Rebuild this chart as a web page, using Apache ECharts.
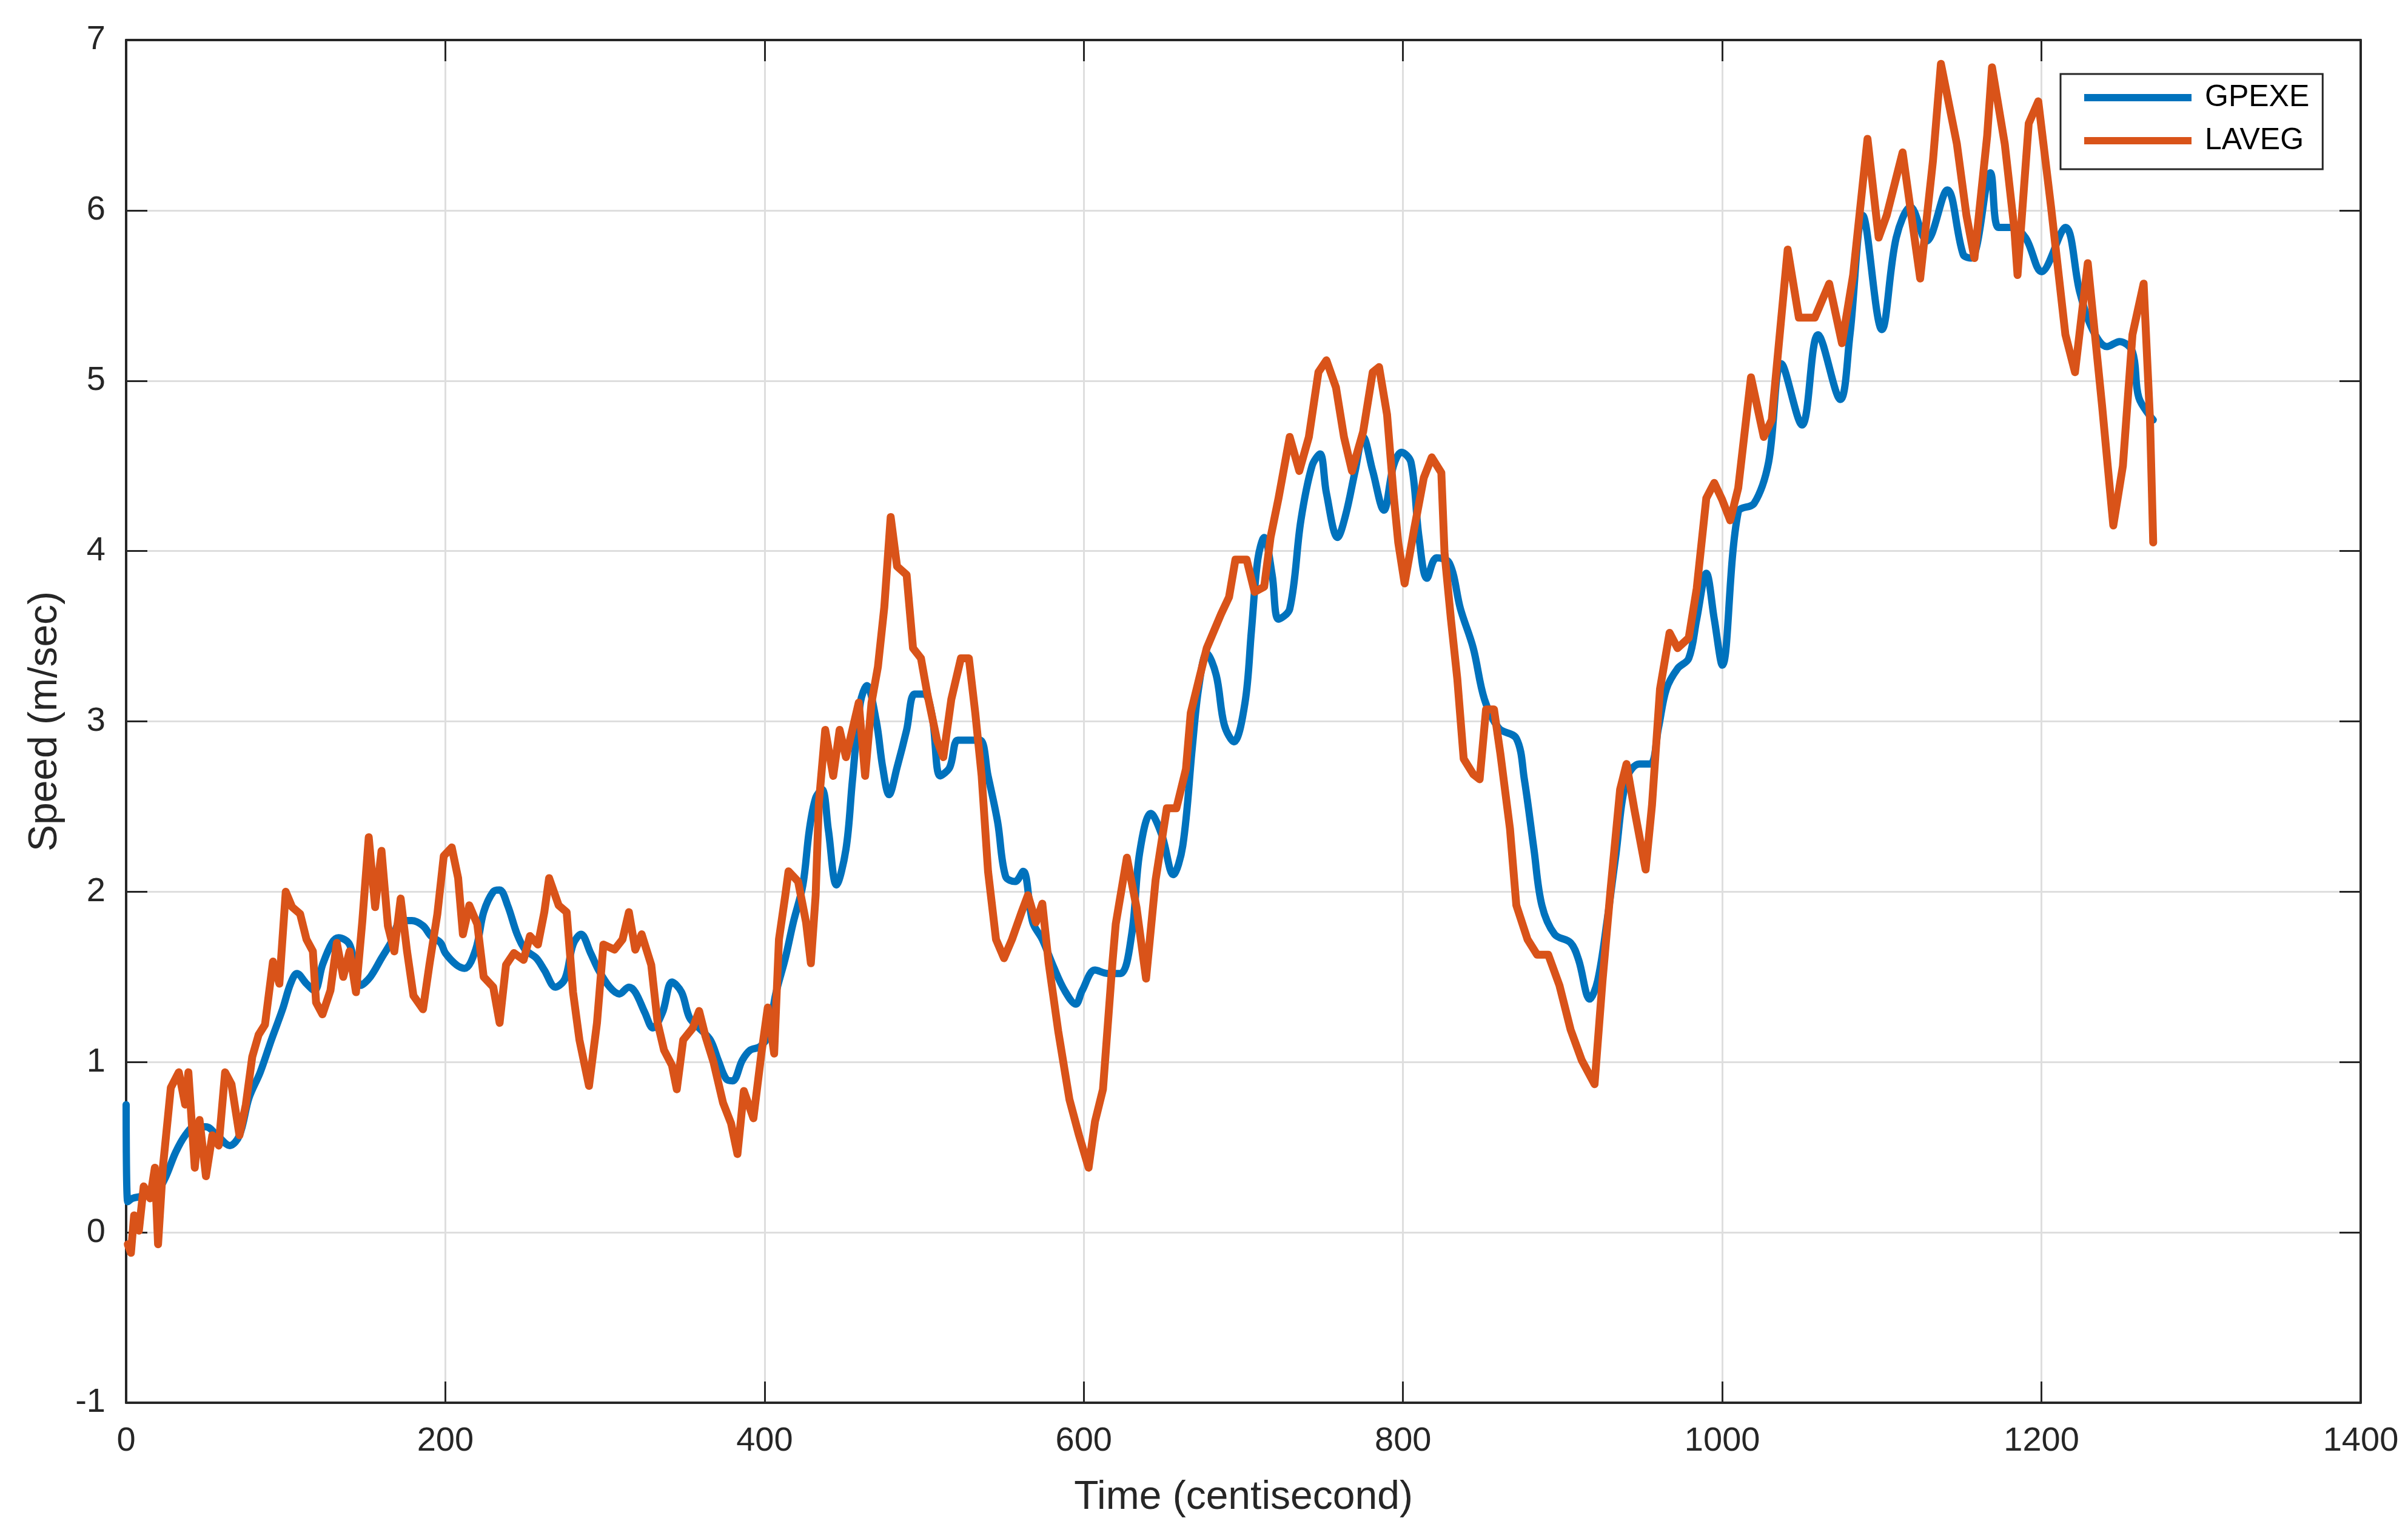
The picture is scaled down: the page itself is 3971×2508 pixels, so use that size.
<!DOCTYPE html>
<html>
	<head>
        <meta charset="utf-8" />
		<title>GPEXE vs LAVEG</title>
        <script src="https://cdn.jsdelivr.net/npm/echarts@6/dist/echarts.min.js"></script>
	</head>
	<body style="margin:0">

       <div id="main" style="width:3971px;height:2508px"> </div>

    <script>
      // GPEXE (blue)
      var gpexeTime = [0, 1, 4, 9, 18, 24, 31, 37, 43, 50, 57, 65, 71, 77, 84, 91, 98, 103, 107, 113, 118, 123, 129, 133, 140, 147, 153, 160, 167, 172, 179, 186, 191, 197,
        200, 207, 212, 219, 224, 230, 234, 239, 245, 250, 257, 262, 269, 275, 280, 285, 291, 296, 303, 309, 315, 319, 325, 330, 336, 342, 348, 353, 359, 366, 371, 376, 380, 386, 391, 397,
        402, 407, 413, 418, 424, 428, 432, 436, 440, 445, 451, 455, 460, 464, 470, 474, 478, 483, 489, 494, 500, 505, 510, 516, 521, 528, 535, 540, 546, 551, 557, 562, 568, 574, 581, 588, 595,
        599, 607, 615, 623, 630, 635, 642, 649, 656, 662, 668, 672, 677, 683, 688, 694, 701, 705, 709, 713, 718, 722, 729, 736, 743, 748, 752, 759, 764, 770, 775, 781, 788, 794,
        799, 805, 810, 815, 821, 829, 836, 844, 851, 860, 871, 876, 882, 887, 895, 905, 910, 917, 922, 928, 933, 940, 948, 955, 960, 965, 972, 979, 984, 990, 995,
        1000, 1010, 1020, 1029, 1037, 1050, 1060, 1074, 1080, 1088, 1100, 1109, 1118, 1128, 1141, 1151, 1156, 1168, 1173, 1181, 1190, 1200, 1215, 1224, 1232, 1241, 1249, 1257, 1261, 1270];
      var gpexeSpeed = [0.75, 0.18, 0.2, 0.21, 0.23, 0.31, 0.47, 0.57, 0.62, 0.62, 0.57, 0.51, 0.57, 0.79, 0.94, 1.13, 1.31, 1.46, 1.52, 1.46, 1.42, 1.57, 1.7, 1.73, 1.69, 1.45, 1.5, 1.61, 1.72, 1.83, 1.83, 1.8, 1.74, 1.7,
        1.64, 1.57, 1.55, 1.66, 1.88, 2.0, 2.01, 1.92, 1.75, 1.66, 1.61, 1.54, 1.44, 1.49, 1.69, 1.75, 1.64, 1.54, 1.44, 1.4, 1.44, 1.41, 1.29, 1.2, 1.29, 1.47, 1.41, 1.26, 1.2, 1.13, 1.01, 0.9, 0.89, 1.01, 1.07, 1.09,
        1.15, 1.4, 1.61, 1.82, 2.04, 2.36, 2.55, 2.6, 2.36, 2.04, 2.25, 2.65, 3.11, 3.21, 3.0, 2.73, 2.57, 2.73, 2.95, 3.16, 3.16, 3.03, 2.68, 2.73, 2.89, 2.89, 2.89, 2.68, 2.41, 2.09, 2.06, 2.12, 1.82, 1.72, 1.56, 1.42, 1.34,
        1.42, 1.54, 1.52, 1.52, 1.75, 2.23, 2.46, 2.33, 2.1, 2.27, 2.85, 3.2, 3.4, 3.27, 2.98, 2.88, 3.11, 3.53, 3.95, 4.08, 3.86, 3.6, 3.66, 4.18, 4.5, 4.57, 4.34, 4.08, 4.21, 4.47, 4.67, 4.47, 4.24, 4.5,
        4.58, 4.52, 4.08, 3.84, 3.96, 3.93, 3.66, 3.43, 3.13, 2.96, 2.9, 2.66, 2.25, 1.92, 1.75, 1.7, 1.6, 1.37, 1.48, 1.84, 2.19, 2.66, 2.75, 2.75, 2.96, 3.19, 3.31, 3.37, 3.6, 3.87, 3.6,
        3.33, 4.23, 4.28, 4.52, 5.1, 4.74, 5.27, 4.89, 5.27, 5.97, 5.3, 5.84, 6.02, 5.82, 6.12, 5.74, 5.72, 6.22, 5.9, 5.9, 5.84, 5.64, 5.9, 5.52, 5.3, 5.2, 5.23, 5.17, 4.9, 4.77];

      // LAVEG (orange)
      var lavegTime = [1, 3, 5, 8, 11, 15, 18, 20, 23, 26, 28, 33, 37, 39, 43, 46, 50, 54, 58, 62, 66, 71, 75, 79, 83, 87, 92, 96, 100, 104, 109, 113, 117, 119, 123, 128, 132, 136, 140, 144, 148, 152, 156, 160, 164, 168, 172, 176, 180, 186, 190, 195, 199,
        204, 208, 211, 215, 220, 224, 230, 234, 238, 243, 249, 253, 258, 262, 265, 271, 276, 280, 284, 290, 295, 299, 306, 311, 315, 319, 323, 329, 333, 337, 342, 345, 349, 355, 359, 363, 368, 374, 379, 383, 387, 393, 398,
        402, 406, 409, 413, 415, 421, 426, 429, 432, 434, 438, 443, 447, 451, 455, 459, 463, 467, 471, 475, 479, 483, 489, 493, 498, 502, 508, 512, 517, 523, 528, 532, 536, 540, 545, 550, 555, 561, 565, 570, 574, 578, 584, 591, 597, 603,
        607, 612, 618, 620, 627, 633, 639, 645, 652, 658, 664, 667, 672, 677, 686, 691, 695, 702, 707, 713, 717, 722, 729, 735, 741, 747, 752, 758, 763, 768, 775, 781, 785, 790, 794, 797, 801,
        807, 813, 818, 824, 826, 830, 834, 838, 844, 848, 852, 857, 861, 867, 871, 878, 884, 891, 898, 905, 912, 920, 925, 930, 936, 940, 945, 952, 956, 961, 967, 972, 979, 984, 990, 995,
        1000, 1005, 1010, 1018, 1026, 1031, 1041, 1048, 1058, 1067, 1075, 1082, 1091, 1098, 1103, 1113, 1124, 1132, 1137, 1147, 1153, 1158, 1166, 1169, 1177, 1183, 1185, 1192, 1198, 1206, 1215, 1221, 1229, 1238, 1245, 1251, 1257, 1264, 1268, 1270];
      var lavegSpeed = [-0.07, -0.12, 0.1, 0.01, 0.27, 0.2, 0.38, -0.07, 0.38, 0.66, 0.85, 0.94, 0.75, 0.94, 0.38, 0.66, 0.33, 0.57, 0.51, 0.94, 0.87, 0.57, 0.75, 1.03, 1.16, 1.22, 1.59, 1.46, 2.0, 1.91, 1.87, 1.72, 1.65, 1.35, 1.28, 1.42, 1.7, 1.5, 1.65, 1.41, 1.83, 2.32, 1.91, 2.24, 1.8, 1.65, 1.96, 1.65, 1.39, 1.31, 1.57, 1.87, 2.21,
        2.26, 2.08, 1.75, 1.92, 1.81, 1.5, 1.44, 1.23, 1.57, 1.64, 1.6, 1.74, 1.69, 1.88, 2.08, 1.92, 1.88, 1.41, 1.13, 0.86, 1.23, 1.69, 1.66, 1.72, 1.88, 1.66, 1.75, 1.57, 1.23, 1.07, 0.98, 0.84, 1.13, 1.2, 1.3, 1.15, 1.0, 0.76, 0.64, 0.46, 0.83, 0.67, 1.05,
        1.32, 1.05, 1.72, 1.98, 2.12, 2.06, 1.82, 1.58, 1.98, 2.52, 2.95, 2.68, 2.95, 2.79, 2.95, 3.11, 2.68, 3.11, 3.32, 3.67, 4.2, 3.91, 3.86, 3.43, 3.37, 3.16, 2.89, 2.79, 3.13, 3.37, 3.37, 3.05, 2.68, 2.12, 1.72, 1.61, 1.72, 1.88, 1.98, 1.82, 1.93, 1.58, 1.18, 0.78, 0.57, 0.38,
        0.65, 0.84, 1.59, 1.81, 2.2, 1.91, 1.49, 2.07, 2.49, 2.49, 2.72, 3.05, 3.24, 3.43, 3.63, 3.73, 3.95, 3.95, 3.76, 3.79, 4.08, 4.31, 4.67, 4.47, 4.67, 5.05, 5.12, 4.96, 4.67, 4.47, 4.7, 5.05, 5.08, 4.8, 4.34, 4.05, 3.81,
        4.13, 4.43, 4.55, 4.46, 3.99, 3.6, 3.25, 2.78, 2.69, 2.66, 3.07, 3.07, 2.81, 2.37, 1.92, 1.72, 1.63, 1.63, 1.45, 1.19, 1.01, 0.87, 1.48, 2.01, 2.6, 2.75, 2.48, 2.13, 2.51, 3.19, 3.52, 3.43, 3.49, 3.78, 4.31, 4.4,
        4.3, 4.18, 4.37, 5.02, 4.67, 4.77, 5.77, 5.37, 5.37, 5.57, 5.22, 5.62, 6.42, 5.84, 5.97, 6.34, 5.6, 6.29, 6.86, 6.39, 5.97, 5.72, 6.44, 6.84, 6.39, 5.89, 5.62, 6.51, 6.64, 6.02, 5.27, 5.05, 5.69, 4.85, 4.15, 4.5, 5.27, 5.57, 4.77, 4.05];

      var xTicks = [0, 200, 400, 600, 800, 1000, 1200, 1400];
      var yTicks = [-1, 0, 1, 2, 3, 4, 5, 6, 7];

      var font = 'Liberation Sans, Arial, Helvetica, sans-serif';
      var ink = '#262626';

      function pairs(t, v) {
          return t.map(function (x, i) { return [x, v[i]]; });
      }

      function boxAxis(pos, isX) {
          // plain axis for the top / right edge of the box, ticks only
          var a = {
              type: 'value',
              position: pos,
              axisLine: { show: true, onZero: false, lineStyle: { color: ink, width: 4 } },
              axisTick: { show: true, inside: true, length: 35, lineStyle: { color: ink, width: 3 } },
              axisLabel: { show: false },
              splitLine: { show: false }
          };
          if (isX) { a.min = xTicks[0]; a.max = xTicks[xTicks.length - 1]; a.interval = 200; }
          else { a.min = yTicks[0]; a.max = yTicks[yTicks.length - 1]; a.interval = 1; }
          return a;
      }

      var option = {
          animation: false,
          backgroundColor: '#ffffff',
          textStyle: { fontFamily: font },
          grid: { left: 208, right: 78, top: 66, bottom: 191 },
          legend: {
              data: ['GPEXE', 'LAVEG'],
              orient: 'vertical',
              left: 3398,
              top: 122,
              padding: [14, 22, 22, 39],
              itemWidth: 177,
              itemHeight: 12,
              itemGap: 21,
              icon: 'rect',
              backgroundColor: '#ffffff',
              borderColor: ink,
              borderWidth: 3,
              borderRadius: 0,
              textStyle: { fontSize: 50, lineHeight: 50, color: '#000000', fontFamily: font, padding: [0, 0, 0, 17] }
          },
          xAxis: [{
              type: 'value',
              min: xTicks[0],
              max: xTicks[xTicks.length - 1],
              interval: 200,
              name: 'Time (centisecond)',
              nameLocation: 'middle',
              nameGap: 124,
              nameTextStyle: { fontSize: 66, color: ink, fontFamily: font },
              axisLine: { show: true, onZero: false, lineStyle: { color: ink, width: 4 } },
              axisTick: { show: true, inside: true, length: 35, lineStyle: { color: ink, width: 3 } },
              axisLabel: { fontSize: 56, color: ink, margin: 36, fontFamily: font, formatter: function (v) { return String(v); } },
              splitLine: { show: true, lineStyle: { color: '#dedede', width: 3 } }
          }, boxAxis('top', true)],
          yAxis: [{
              type: 'value',
              min: yTicks[0],
              max: yTicks[yTicks.length - 1],
              interval: 1,
              name: 'Speed (m/sec)',
              nameLocation: 'middle',
              nameGap: 100,
              nameTextStyle: { fontSize: 66, color: ink, fontFamily: font },
              axisLine: { show: true, onZero: false, lineStyle: { color: ink, width: 4 } },
              axisTick: { show: true, inside: true, length: 35, lineStyle: { color: ink, width: 3 } },
              axisLabel: { fontSize: 56, color: ink, margin: 34, fontFamily: font },
              splitLine: { show: true, lineStyle: { color: '#dedede', width: 3 } }
          }, boxAxis('right', false)],
          series: [
              {
                  name: 'GPEXE',
                  type: 'line',
                  showSymbol: false,
                  symbol: 'none',
                  smooth: 0.35,
                  color: '#0072BD',
                  lineStyle: { width: 12, color: '#0072BD', join: 'round', cap: 'round' },
                  data: pairs(gpexeTime, gpexeSpeed)
              },
              {
                  name: 'LAVEG',
                  type: 'line',
                  showSymbol: false,
                  symbol: 'none',
                  color: '#D95319',
                  lineStyle: { width: 13, color: '#D95319', join: 'round', cap: 'round' },
                  data: pairs(lavegTime, lavegSpeed)
              }
          ]
      };

      var myChart = echarts.init(document.getElementById('main'));
      myChart.setOption(option);
    </script>
	</body>
</html>
